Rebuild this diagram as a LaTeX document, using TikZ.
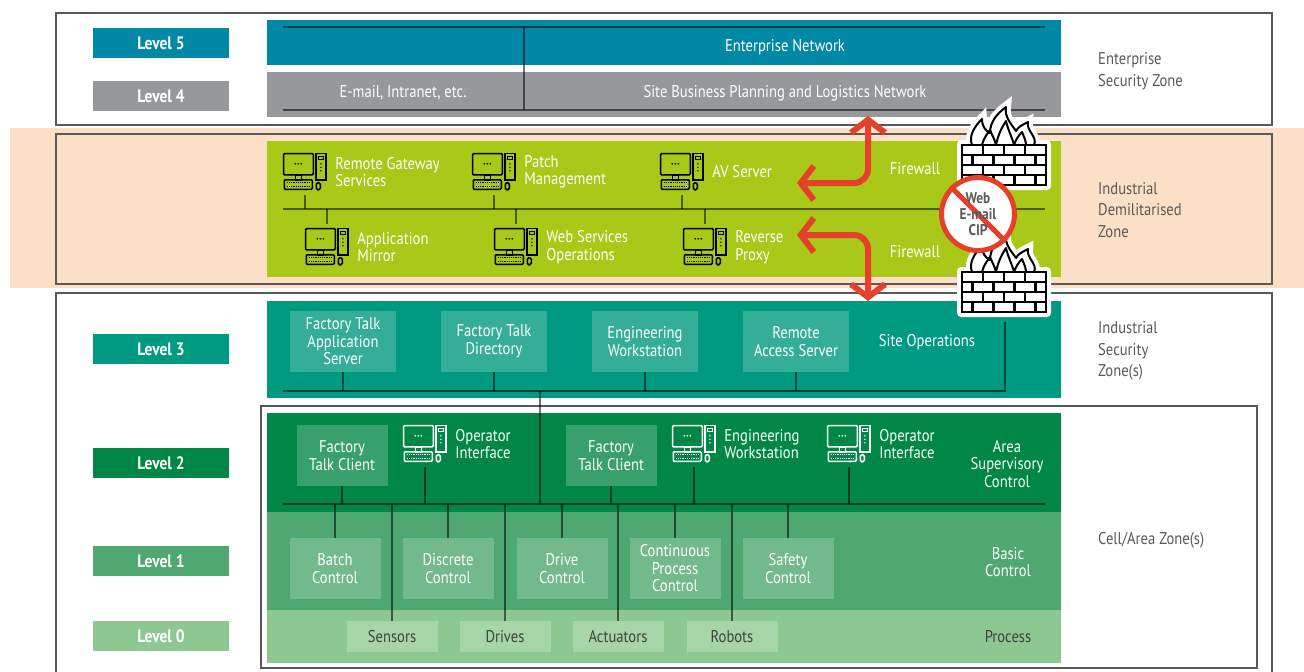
\documentclass[tikz,border=0pt]{standalone}
\usepackage{fontspec}
\setmainfont{PT Sans}[FakeStretch=0.86]
\usetikzlibrary{positioning,arrows.meta}

\definecolor{entblue}{HTML}{0088A6}
\definecolor{sitegray}{HTML}{97989B}
\definecolor{dmzgreen}{HTML}{A9C817}
\definecolor{peach}{HTML}{FCDFC7}
\definecolor{opsteal}{HTML}{009A83}
\definecolor{opsbox}{HTML}{34AE99}
\definecolor{areagreen}{HTML}{008745}
\definecolor{areabox}{HTML}{37A06C}
\definecolor{basicgreen}{HTML}{4EA870}
\definecolor{basicbox}{HTML}{72B98C}
\definecolor{procgreen}{HTML}{8DC893}
\definecolor{procbox}{HTML}{A6D6A8}
\definecolor{fwred}{HTML}{E6402A}
\definecolor{zonegray}{HTML}{595959}

\newcommand\boxfont{\fontsize{17}{17.5}\selectfont}
\newcommand\zonefont{\fontsize{17}{21.5}\selectfont}
\newcommand\levelfont{\fontsize{18}{20}\selectfont\bfseries}
\newcommand\stopfont{\fontsize{15.5}{16}\selectfont\bfseries}

\tikzset{
  % desktop computer icon, origin at its top left corner
  pics/pc/.style={code={
    \begin{scope}[draw=#1,line width=1.6pt]
      \draw[rounded corners=1pt] (0.8,0.8) rectangle (30.5,22);
      \fill[#1] (12.5,11) circle (0.9) (15.5,11) circle (0.9) (18.5,11) circle (0.9);
      \draw (12.5,22) rectangle (18.5,27);
      \draw[rounded corners=1pt] (1.5,27) rectangle (29.5,36.5);
      \draw[line width=1.2pt,dash pattern=on 1.2pt off 1pt] (4,30) -- (27,30) (4,33.5) -- (27,33.5);
      \draw (33,0.8) rectangle (43.2,27);
      \draw[line width=1.2pt] (35.5,3.5) rectangle (40.7,7);
      \fill[#1] (38.1,11) circle (0.8) (38.1,14.5) circle (0.8) (38.1,18) circle (0.8);
      \draw[rounded corners=1.5pt] (33.5,30) rectangle (37.5,37);
    \end{scope}}},
  % brick wall with flames, origin at the top left of the wall
  pics/firewall/.style={code={
    \fill[white,rounded corners=4pt] (-5,-5) rectangle (89,45);
    \draw[fill=white,line width=2pt,line join=round,preaction={draw=white,line width=10pt}]
      (10,0) .. controls (6,-10) and (14,-20) .. (20,-26)
      .. controls (20,-18) and (24,-14) .. (28,-12)
      .. controls (28,-24) and (36,-32) .. (44,-38)
      .. controls (42,-28) and (50,-20) .. (54,-14)
      .. controls (56,-18) and (60,-20) .. (66,-23)
      .. controls (64,-14) and (76,-8) .. (72,0) -- cycle;
    \draw[line width=2pt,line join=round]
      (20,0) .. controls (22,-8) and (26,-12) .. (28,-15) .. controls (30,-10) and (33,-5) .. (34,0)
      (34,0) .. controls (36,-10) and (40,-18) .. (44,-24) .. controls (46,-15) and (50,-8) .. (52,0)
      (52,0) .. controls (54,-6) and (57,-10) .. (60,-13) .. controls (62,-8) and (64,-4) .. (64,0);
    \draw[fill=white,line width=2.6pt] (0,0) rectangle (84,40);
    \foreach \r in {10,20,30} \draw[line width=2.6pt] (0,\r) -- (84,\r);
    \foreach \c in {21,42,63} \draw[line width=2.2pt] (\c,0) -- (\c,10) (\c,20) -- (\c,30);
    \foreach \c in {10.5,31.5,52.5,73.5} \draw[line width=2.2pt] (\c,10) -- (\c,20) (\c,30) -- (\c,40);
  }}
}

\begin{document}
\begin{tikzpicture}
  [x=1pt,y=-1pt,
   every node/.style={inner sep=0pt,font=\boxfont,text=white,align=center},
   level/.style={fill=#1,minimum width=136pt,minimum height=30pt,font=\levelfont},
   zone/.style={draw=zonegray,line width=1.3pt},
   zonelabel/.style={anchor=west,align=left,text=zonegray,font=\zonefont},
   unit/.style={fill=#1,minimum width=91pt,minimum height=61pt},
   opsunit/.style={fill=opsbox,minimum width=106pt,minimum height=61pt},
   field/.style={fill=procbox,minimum width=91pt,minimum height=31pt,text=black!75},
   pcspot/.style={minimum width=44pt,minimum height=38pt},
   pclabel/.style={align=left},
   net/.style={draw=black,draw opacity=.55,line width=2.4pt},
   flow/.style={draw=fwred,line width=6pt,rounded corners=14pt,
     {Straight Barb[length=13pt,width=34pt]}-{Straight Barb[length=13pt,width=34pt]}}]
  \useasboundingbox (0,0) rectangle (1304,672);

  % zones
  \fill[peach] (10,128) rectangle (1304,288);
  \draw[zone] (56,13) rectangle (1272,125);
  \draw[zone] (56,134) rectangle (1272,284);
  \draw[zone] (56,674) |- (1272,293) -- (1272,674);
  \draw[zone,fill=white] (261,406) rectangle (1257,668);

  % level bands
  \fill[entblue] (267,20) rectangle (1061,65);
  \fill[sitegray] (267,72) rectangle (1061,117);
  \fill[dmzgreen] (267,141) rectangle (1061,277);
  \fill[opsteal] (267,301) rectangle (1061,398);
  \fill[areagreen] (267,413) rectangle (1061,512);
  \fill[basicgreen] (267,512) rectangle (1061,610);
  \fill[procgreen] (267,610) rectangle (1061,663);

  % level tags
  \node[level=entblue] (lv5) at (161,43) {Level 5};
  \node[level=sitegray] (lv4) at (161,96) {Level 4};
  \node[level=opsteal] (lv3) at (161,349) {Level 3};
  \node[level=areagreen] (lv2) at (161,463) {Level 2};
  \node[level=basicgreen] (lv1) at (161,561) {Level 1};
  \node[level=procgreen] (lv0) at (161,636) {Level 0};

  % zone names
  \node[zonelabel] (esz) at (1098,71) {Enterprise\\Security Zone};
  \node[zonelabel] (idz) at (1098,210) {Industrial\\Demilitarised\\Zone};
  \node[zonelabel] (isz) at (1098,351) {Industrial\\Security\\Zone(s)};
  \node[zonelabel] (caz) at (1098,540) {Cell/Area Zone(s)};

  % levels 5 and 4
  \coordinate (entL) at (283,27);
  \coordinate (entR) at (1045,27);
  \coordinate (siteL) at (283,110);
  \coordinate (siteR) at (1045,110);
  \coordinate (entlink) at (524,27);
  \draw[net] (entL) -- (entR);
  \draw[net] (siteL) -- (siteR);
  \draw[net] (entlink) -- (entlink |- siteL);
  \node (entnet) at (785,47) {Enterprise Network};
  \node (mail) at (403,93) {E-mail, Intranet, etc.};
  \node (sbp) at (785,93) {Site Business Planning and Logistics Network};

  % demilitarised zone
  \coordinate (dmzL) at (283,209);
  \coordinate (dmzR) at (1045,209);
  \draw[net] (dmzL) -- (dmzR);
  \node[pcspot] (rgw) at (305,172) {};
  \node[pcspot] (patch) at (494,172) {};
  \node[pcspot] (av) at (682,172) {};
  \node[pcspot] (mirror) at (327,247) {};
  \node[pcspot] (websvc) at (516,247) {};
  \node[pcspot] (proxy) at (705,247) {};
  \node[pclabel,right=8pt of rgw] {Remote Gateway\\Services};
  \node[pclabel,right=8pt of patch] {Patch\\Management};
  \node[pclabel,right=8pt of av] {AV Server};
  \node[pclabel,right=8pt of mirror] {Application\\Mirror};
  \node[pclabel,right=8pt of websvc] {Web Services\\Operations};
  \node[pclabel,right=8pt of proxy] {Reverse\\Proxy};
  \foreach \n in {rgw,patch,av}
    \draw[net,shorten <=4pt] (\n.south) -- (\n.south |- dmzL);
  \foreach \n in {mirror,websvc,proxy}
    \draw[net,shorten <=4pt] (\n.north) -- (\n.north |- dmzL);
  \foreach \n in {rgw,patch,av,mirror,websvc,proxy}
    \pic at (\n.north west) {pc=black};
  \node (fw1) at (915,169) {Firewall};
  \node (fw2) at (915,252) {Firewall};

  % level 3, site operations
  \coordinate (opsL) at (283,391);
  \coordinate (opsR) at (1005,391);
  \coordinate (opstop) at (1005,322);
  \coordinate (uplink) at (540,391);
  \node[opsunit] (ftas) at (343,341.5) {Factory Talk\\Application\\Server};
  \node[opsunit] (ftdir) at (494,341.5) {Factory Talk\\Directory};
  \node[opsunit] (engws) at (645,341.5) {Engineering\\Workstation};
  \node[opsunit] (ras) at (796,341.5) {Remote\\Access Server};
  \node (siteops) at (927,342) {Site Operations};
  \draw[net] (opsL) -- (opsR) -- (opstop);
  \foreach \n in {ftas,ftdir,engws,ras}
    \draw[net] (\n.south) -- (\n.south |- opsL);

  % level 2, area supervisory control
  \coordinate (areaL) at (283,504);
  \coordinate (areaR) at (1045,504);
  \draw[net] (areaL) -- (areaR);
  \draw[net] (uplink) -- (uplink |- areaL);
  \node[unit=areabox] (ftc1) at (342,455.5) {Factory\\Talk Client};
  \node[unit=areabox] (ftc2) at (611,455.5) {Factory\\Talk Client};
  \node[pcspot] (opi1) at (425,444) {};
  \node[pcspot] (engpc) at (694,444) {};
  \node[pcspot] (opi2) at (849,444) {};
  \node[pclabel,right=8pt of opi1] {Operator\\Interface};
  \node[pclabel,right=8pt of engpc] {Engineering\\Workstation};
  \node[pclabel,right=8pt of opi2] {Operator\\Interface};
  \node (asc) at (1007,464) {Area\\Supervisory\\Control};
  \foreach \n in {ftc1,ftc2}
    \draw[net] (\n.south) -- (\n.south |- areaL);
  \foreach \n in {opi1,engpc,opi2}
    \draw[net,shorten <=4pt] (\n.south) -- (\n.south |- areaL);
  \foreach \n in {opi1,engpc,opi2}
    \pic at (\n.north west) {pc=white};

  % level 1, basic control
  \node[unit=basicbox] (batch) at (335,568.5) {Batch\\Control};
  \node[unit=basicbox] (discrete) at (448,568.5) {Discrete\\Control};
  \node[unit=basicbox] (drivectl) at (562,568.5) {Drive\\Control};
  \node[unit=basicbox] (contproc) at (675,568.5) {Continuous\\Process\\Control};
  \node[unit=basicbox] (safety) at (788,568.5) {Safety\\Control};
  \node (basic) at (1008,562) {Basic\\Control};

  % level 0, process
  \node[field] (sensors) at (392,636.5) {Sensors};
  \node[field] (drives) at (505,636.5) {Drives};
  \node[field] (actuators) at (618,636.5) {Actuators};
  \node[field] (robots) at (732,636.5) {Robots};
  \node[text=black!75] (process) at (1008,637) {Process};
  \foreach \n in {batch,discrete,drivectl,contproc,safety,sensors,drives,actuators,robots}
    \draw[net] (\n.north |- areaL) -- (\n.north);

  % traffic through the firewalls
  \coordinate (fwup) at (868,116);
  \coordinate (avin) at (797,183);
  \coordinate (pxin) at (797,235);
  \coordinate (fwdown) at (868,301);
  \draw[flow] (fwup) |- (avin);
  \draw[flow] (pxin) -| (fwdown);
  \pic at (962,145) {firewall};
  \pic at (962,272) {firewall};

  % no direct traffic
  \node[circle,draw=fwred,fill=white,line width=5pt,minimum size=73pt] (noentry) at (978,214) {};
  \draw[fwred,line width=5pt] (noentry.135) -- (noentry.-45);
  \node[font=\stopfont,text=zonegray] (blocked) at (noentry) {Web\\E-mail\\CIP};
\end{tikzpicture}
\end{document}
